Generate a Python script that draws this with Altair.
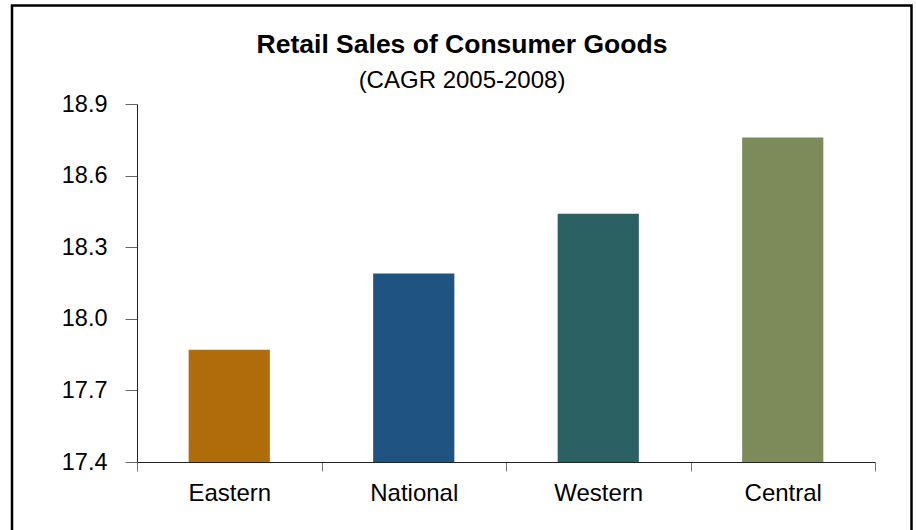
import altair as alt
import pandas as pd

regions = ["Eastern", "National", "Western", "Central"]
cagr = [17.87, 18.19, 18.44, 18.76]
colors = ["#B06C0B", "#1F5382", "#2B6163", "#7D8B5A"]
y_ticks = [17.4, 17.7, 18.0, 18.3, 18.6, 18.9]
title_text = "Retail Sales of Consumer Goods"
subtitle_text = "(CAGR 2005-2008)"

df = pd.DataFrame({"region": regions, "cagr": cagr})
FONT = "Liberation Sans"

bars = alt.Chart(df).mark_bar(width=alt.RelativeBandSize(0.44)).encode(
    x=alt.X("region:N", sort=regions,
            scale=alt.Scale(paddingInner=0, paddingOuter=0),
            axis=alt.Axis(title=None, labelAngle=0, tickBand="extent",
                          tickSize=9, tickColor="#777777", domainColor="#222222",
                          labelFont=FONT, labelFontSize=24, labelColor="#000000",
                          labelPadding=10, grid=False)),
    y=alt.Y("cagr:Q", scale=alt.Scale(domain=[y_ticks[0], y_ticks[-1]], zero=False, nice=False),
            axis=alt.Axis(title=None, values=y_ticks, format=".1f", tickSize=12,
                          tickColor="#666666", domainColor="#222222",
                          labelFont=FONT, labelFontSize=23.5, labelColor="#000000",
                          labelPadding=18, grid=False)),
    y2=alt.datum(y_ticks[0]),
    color=alt.Color("region:N", sort=regions,
                    scale=alt.Scale(domain=regions, range=colors), legend=None),
)

border = alt.Chart(pd.DataFrame({"a": [0]})).mark_rect(
    fill=None, stroke="#000000", strokeWidth=2.5
).encode(
    x=alt.value(-125), x2=alt.value(774.5), y=alt.value(-98.5), y2=alt.value(440)
)

chart = alt.layer(bars, border).properties(
    width=738, height=358,
    autosize=alt.AutoSizeParams(type="none"),
    padding={"left": 137, "top": 104, "right": 41, "bottom": 68},
    title=alt.TitleParams(
        text=title_text, subtitle=subtitle_text,
        font=FONT, fontSize=26.5, fontWeight="bold", color="#000000",
        subtitleFont=FONT, subtitleFontSize=24, subtitleColor="#000000",
        anchor="middle", frame="group", dx=-44, dy=99, offset=10, subtitlePadding=11,
    ),
).configure(background="#ffffff").configure_view(stroke=None)

chart.save("out.html", embed_options={"renderer": "svg", "actions": False})
